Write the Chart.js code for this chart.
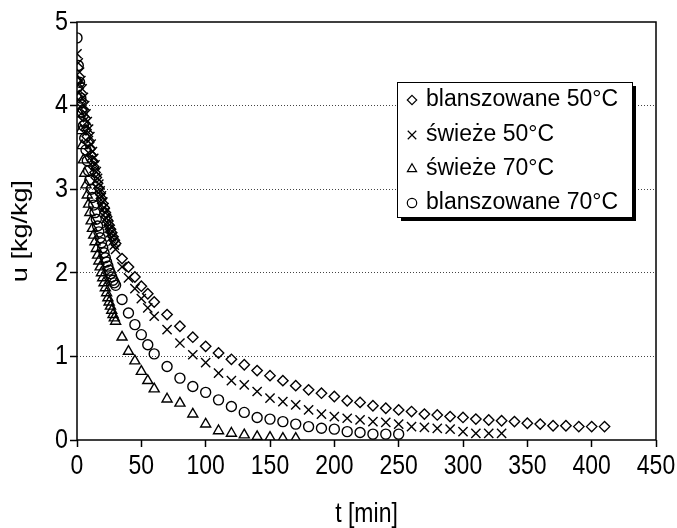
<!DOCTYPE html>
<html>
<head>
<meta charset="utf-8">
<script src="https://cdn.jsdelivr.net/npm/chart.js@4.4.1/dist/chart.umd.min.js"></script>
<style>
  html, body { margin: 0; padding: 0; background: #fff; }
  #wrap { width: 677px; height: 528px; position: relative; }
</style>
</head>
<body>
<div id="wrap"><canvas id="c" width="677" height="528"></canvas></div>
<script>
// ---- data ----
const seriesNames = ['blanszowane 50°C', 'świeże 50°C', 'świeże 70°C', 'blanszowane 70°C'];

const tDense = [0,1,2,3,4,5,6,7,8,9,10,11,12,13,14,15,16,17,18,19,20,21,22,23,24,25,26,27,28,29,30];
const tMid = [35,40,45,50,55,60];

const tTailBl50 = [70,80,90,100,110,120,130,140,150,160,170,180,190,200,210,220,230,240,250,260,270,280,290,300,310,320,330,340,350,360,370,380,390,400,410];
const tTailSw50 = [70,80,90,100,110,120,130,140,150,160,170,180,190,200,210,220,230,240,250,260,270,280,290,300,310,320,330];
const tTailSw70 = [70,80,90,100,110,120,130,140,150,160,170];
const tTailBl70 = [70,80,90,100,110,120,130,140,150,160,170,180,190,200,210,220,230,240,250];

const uBl50 = [4.30,4.21,4.12,4.04,3.95,3.87,3.79,3.71,3.63,3.56,3.48,3.41,3.34,3.27,3.20,3.14,3.07,3.01,2.95,2.89,2.83,2.78,2.72,2.67,2.62,2.57,2.52,2.48,2.43,2.39,2.35,
  2.17,2.07,1.95,1.84,1.75,1.65,
  1.50,1.36,1.23,1.12,1.04,0.965,0.90,0.83,0.77,0.71,0.65,0.60,0.56,0.52,0.47,0.45,0.41,0.38,0.36,0.34,0.31,0.30,0.28,0.27,0.25,0.24,0.23,0.22,0.20,0.19,0.17,0.17,0.16,0.16,0.16];

const uSw50 = [4.62,4.51,4.40,4.30,4.20,4.10,4.00,3.90,3.81,3.72,3.63,3.54,3.45,3.37,3.29,3.21,3.13,3.06,2.98,2.92,2.85,2.78,2.72,2.65,2.59,2.53,2.48,2.43,2.38,2.33,2.28,
  2.07,1.94,1.81,1.69,1.58,1.48,
  1.32,1.16,1.02,0.925,0.80,0.71,0.66,0.58,0.50,0.46,0.42,0.36,0.31,0.28,0.26,0.24,0.22,0.21,0.19,0.16,0.15,0.14,0.13,0.10,0.08,0.08,0.08];

const uSw70 = [4.30,4.10,3.90,3.70,3.52,3.35,3.19,3.05,2.93,2.82,2.72,2.62,2.53,2.45,2.37,2.29,2.21,2.14,2.07,2.00,1.94,1.88,1.82,1.76,1.70,1.65,1.60,1.55,1.50,1.46,1.42,
  1.23,1.06,0.945,0.82,0.71,0.61,
  0.49,0.44,0.31,0.19,0.11,0.08,0.06,0.04,0.03,0.02,0.02];

const uBl70 = [4.81,4.48,4.28,4.09,3.92,3.76,3.61,3.47,3.34,3.22,3.11,3.00,2.90,2.81,2.72,2.64,2.56,2.49,2.42,2.36,2.30,2.24,2.18,2.13,2.08,2.03,1.99,1.95,1.91,1.88,1.85,
  1.68,1.52,1.38,1.26,1.14,1.03,
  0.88,0.74,0.64,0.57,0.48,0.40,0.33,0.27,0.25,0.22,0.19,0.16,0.14,0.13,0.10,0.09,0.07,0.07,0.07];

const xTicks = [0,50,100,150,200,250,300,350,400,450];
const yTicks = [0,1,2,3,4,5];

// ---- build ----
function pts(tt, uu) { return tt.map((x, i) => ({ x: x, y: uu[i] })); }
const timesBl50 = tDense.concat(tMid, tTailBl50);
const timesSw50 = tDense.concat(tMid, tTailSw50);
const timesSw70 = tDense.concat(tMid, tTailSw70);
const timesBl70 = tDense.concat(tMid, tTailBl70);

const styles = [
  { pointStyle: 'rectRot', radius: 5.2 },
  { pointStyle: 'crossRot', radius: 6.5 },
  { pointStyle: 'triangle', radius: 5.8 },
  { pointStyle: 'circle', radius: 5 }
];
const dataSets = [pts(timesBl50, uBl50), pts(timesSw50, uSw50), pts(timesSw70, uSw70), pts(timesBl70, uBl70)];

const SANS = "'Liberation Sans', Arial, Helvetica, sans-serif";
const STRETCH = 1.2;      // text in the reference is drawn taller than wide
const X_TICK_SIZE = 23, X_TICK_PAD = 8, TICK_LEN = 7;
const Y_TICK_SIZE = 28, Y_TICK_PAD = 2;
const TITLE_SIZE = 22, XTITLE_SIZE = 23;

// stretch the library's own text vertically / compress horizontally
function patchX(s) {
  if (s._patched) return; s._patched = true;
  const dl = s.drawLabels.bind(s), dt = s.drawTitle.bind(s);
  s.drawLabels = function (area) {
    const ctx = this.ctx, yc = this.top + TICK_LEN + X_TICK_PAD + X_TICK_SIZE / 2;
    ctx.save(); ctx.translate(0, yc); ctx.scale(1, STRETCH); ctx.translate(0, -yc);
    dl(area); ctx.restore();
  };
  s.drawTitle = function (area) {
    const ctx = this.ctx, yc = this.bottom - XTITLE_SIZE / 2 - 2;
    ctx.save(); ctx.translate(0, yc); ctx.scale(1, STRETCH); ctx.translate(0, -yc);
    dt(area); ctx.restore();
  };
}
function patchY(s) {
  if (s._patched) return; s._patched = true;
  const dl = s.drawLabels.bind(s), dt = s.drawTitle.bind(s);
  s.drawLabels = function (area) {
    const ctx = this.ctx, xc = this.right - TICK_LEN - Y_TICK_PAD;
    ctx.save(); ctx.translate(xc, 0); ctx.scale(1 / STRETCH, 1); ctx.translate(-xc, 0);
    dl(area); ctx.restore();
  };
  s.drawTitle = function (area) {
    const ctx = this.ctx, yc = (this.top + this.bottom) / 2;
    ctx.save(); ctx.translate(0, yc); ctx.scale(1, STRETCH + 0.03); ctx.translate(0, -yc);
    dt(area); ctx.restore();
  };
}

function drawMarker(ctx, style, r, x, y) {
  ctx.beginPath();
  if (style === 'rectRot') {
    ctx.moveTo(x, y - r); ctx.lineTo(x + r, y); ctx.lineTo(x, y + r); ctx.lineTo(x - r, y); ctx.closePath();
  } else if (style === 'crossRot') {
    const d = r * Math.SQRT1_2;
    ctx.moveTo(x - d, y - d); ctx.lineTo(x + d, y + d);
    ctx.moveTo(x + d, y - d); ctx.lineTo(x - d, y + d);
  } else if (style === 'triangle') {
    for (let k = 0; k < 3; k++) {
      const a = k * 2 * Math.PI / 3;
      const px = x + Math.sin(a) * r, py = y - Math.cos(a) * r;
      if (k === 0) ctx.moveTo(px, py); else ctx.lineTo(px, py);
    }
    ctx.closePath();
  } else {
    ctx.arc(x, y, r, 0, Math.PI * 2);
  }
  ctx.stroke();
}

const framePlugin = {
  id: 'frame',
  afterDraw(chart) {
    const ctx = chart.ctx;
    const a = chart.chartArea;
    ctx.save();
    ctx.strokeStyle = '#000';
    ctx.lineWidth = 1.5;
    ctx.strokeRect(a.left, a.top, a.right - a.left, a.bottom - a.top);
    // legend
    const lx = 397, ly = 82, lw = 235, lh = 135;
    ctx.fillStyle = '#000';
    ctx.fillRect(lx + 4, ly + 4, lw, lh);
    ctx.fillStyle = '#fff';
    ctx.fillRect(lx, ly, lw, lh);
    ctx.lineWidth = 1;
    ctx.strokeRect(lx + 0.5, ly + 0.5, lw, lh);
    const rows = [99, 134, 168, 202];
    ctx.font = '23px ' + SANS;
    ctx.textBaseline = 'middle';
    ctx.textAlign = 'left';
    for (let i = 0; i < 4; i++) {
      ctx.strokeStyle = '#000';
      ctx.lineWidth = 1.2;
      const s = styles[i];
      const rr = s.pointStyle === 'crossRot' ? 6 : (s.pointStyle === 'triangle' ? 5.3 : 4.7);
      drawMarker(ctx, s.pointStyle, rr, 412, rows[i] + 1);
      ctx.fillStyle = '#000';
      ctx.fillText(seriesNames[i], 426, rows[i] + 1);
    }
    ctx.restore();
  }
};

new Chart(document.getElementById('c'), {
  type: 'scatter',
  data: {
    datasets: dataSets.map((d, i) => ({
      label: seriesNames[i],
      data: d,
      showLine: false,
      pointStyle: styles[i].pointStyle,
      pointRadius: styles[i].radius,
      pointHoverRadius: styles[i].radius,
      pointBorderColor: '#000',
      pointBackgroundColor: 'rgba(0,0,0,0)',
      pointBorderWidth: 1.4,
      borderColor: '#000',
      backgroundColor: 'rgba(0,0,0,0)'
    }))
  },
  options: {
    responsive: false,
    animation: false,
    devicePixelRatio: 1,
    layout: { padding: { left: 0, right: 21, top: 22, bottom: 0 } },
    plugins: { legend: { display: false }, tooltip: { enabled: false } },
    scales: {
      x: {
        type: 'linear',
        min: 0, max: 450,
        afterBuildTicks: (s) => { s.ticks = xTicks.map(v => ({ value: v })); },
        afterFit: (s) => { s.height = 88; s.paddingLeft = 0; s.paddingRight = 0; patchX(s); },
        ticks: { color: '#000', font: { family: SANS, size: X_TICK_SIZE, lineHeight: 1 }, padding: X_TICK_PAD, maxRotation: 0, autoSkip: false },
        grid: { drawOnChartArea: false, drawTicks: true, tickLength: TICK_LEN, tickColor: '#000', tickWidth: 1.5 },
        border: { display: false },
        title: { display: true, text: 't [min]', color: '#000', font: { family: SANS, size: XTITLE_SIZE, lineHeight: 1 }, padding: { top: 0, bottom: 2 } }
      },
      y: {
        type: 'linear',
        min: 0, max: 5,
        afterBuildTicks: (s) => { s.ticks = yTicks.map(v => ({ value: v })); },
        afterFit: (s) => { s.width = 77; s.paddingTop = 0; s.paddingBottom = 0; patchY(s); },
        ticks: { color: '#000', font: { family: SANS, size: Y_TICK_SIZE, lineHeight: 1 }, padding: Y_TICK_PAD },
        grid: {
          drawOnChartArea: true, drawTicks: true, tickLength: TICK_LEN, tickWidth: 1.5, tickColor: '#000',
          lineWidth: 1,
          color: (c) => (c.tick && (c.tick.value === 0 || c.tick.value === 5)) ? 'rgba(0,0,0,0)' : '#444',
          borderDash: [1, 2]
        },
        border: { display: false, dash: [1, 2] },
        title: { display: true, text: 'u [kg/kg]', color: '#000', font: { family: SANS, size: TITLE_SIZE, lineHeight: 1 }, padding: { top: 10, bottom: 0 } }
      }
    }
  },
  plugins: [framePlugin]
});
</script>
</body>
</html>
